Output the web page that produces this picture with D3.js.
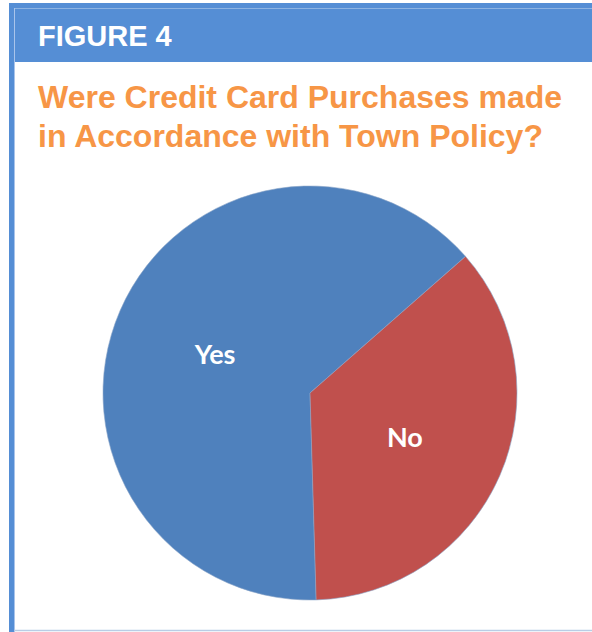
<!DOCTYPE html>
<html>
<head>
<meta charset="utf-8">
<script src="https://cdn.jsdelivr.net/npm/d3@7"></script>
<style>
  body { margin: 0; background: #fff; }
</style>
</head>
<body>
<div id="chart"></div>
<script>
const categories = ['Yes', 'No']
const values = [64, 36]
const colors = ['#4F81BD', '#C0504D']
const figureLabel = 'FIGURE 4'
const titleLines = ['Were Credit Card Purchases made', 'in Accordance with Town Policy?']

const width = 592
const height = 632

const svg = d3.select('#chart').append('svg')
    .attr('width', width)
    .attr('height', height)

// frame
svg.append('rect')
    .attr('x', 9).attr('y', 3)
    .attr('width', width - 9).attr('height', 59)
    .attr('fill', '#558ED5')
svg.append('line')
    .attr('x1', 14).attr('x2', width)
    .attr('y1', 8.5).attr('y2', 8.5)
    .attr('stroke', '#8DB3E2').attr('stroke-width', 1)
svg.append('rect')
    .attr('x', 9).attr('y', 3)
    .attr('width', 5).attr('height', height - 3)
    .attr('fill', '#558ED5')
svg.append('line')
    .attr('x1', 14.5).attr('x2', 14.5)
    .attr('y1', 8).attr('y2', height)
    .attr('stroke', '#A9C4EB').attr('stroke-width', 1)
svg.append('line')
    .attr('x1', 14).attr('x2', width)
    .attr('y1', 630.5).attr('y2', 630.5)
    .attr('stroke', '#B9CDE5').attr('stroke-width', 1.5)

svg.append('text')
    .text(figureLabel)
    .attr('x', 38)
    .attr('y', 46)
    .attr('fill', '#fff')
    .style('font-family', 'Liberation Sans, Arial, sans-serif')
    .style('font-weight', 'bold')
    .style('font-size', '29px')

svg.selectAll('.title')
    .data(titleLines)
    .enter()
    .append('text')
    .attr('class', 'title')
    .text(d => d)
    .attr('x', 38)
    .attr('y', (d, i) => 108 + i * 39)
    .attr('fill', '#F79646')
    .style('font-family', 'Liberation Sans, Arial, sans-serif')
    .style('font-weight', 'bold')
    .style('font-size', '32px')

// pie
const cx = 310, cy = 393, radius = 207
const startDeg = 178.3

const pie = d3.pie()
    .sort(null)
    .value(d => d)
    .startAngle(startDeg * Math.PI / 180)
    .endAngle((startDeg + 360) * Math.PI / 180)

const arc = d3.arc().innerRadius(0).outerRadius(radius)
const labelArc = d3.arc().innerRadius(radius * 0.5).outerRadius(radius * 0.5)

const plot = svg.append('g')
    .attr('transform', `translate(${cx}, ${cy})`)

const arcs = pie(values)

plot.selectAll('path')
    .data(arcs)
    .enter()
    .append('path')
    .attr('d', arc)
    .attr('fill', (d, i) => colors[i])
    .attr('stroke', '#8aa4c8')
    .attr('stroke-width', 0.6)

plot.selectAll('.label')
    .data(arcs)
    .enter()
    .append('text')
    .attr('class', 'label')
    .text((d, i) => categories[i])
    .attr('x', d => labelArc.centroid(d)[0])
    .attr('y', d => labelArc.centroid(d)[1] + 2)
    .attr('text-anchor', 'middle')
    .attr('dominant-baseline', 'central')
    .attr('fill', '#fff')
    .style('font-family', 'Lato, "Open Sans", sans-serif')
    .style('font-weight', 'bold')
    .style('font-size', '27px')
</script>
</body>
</html>
